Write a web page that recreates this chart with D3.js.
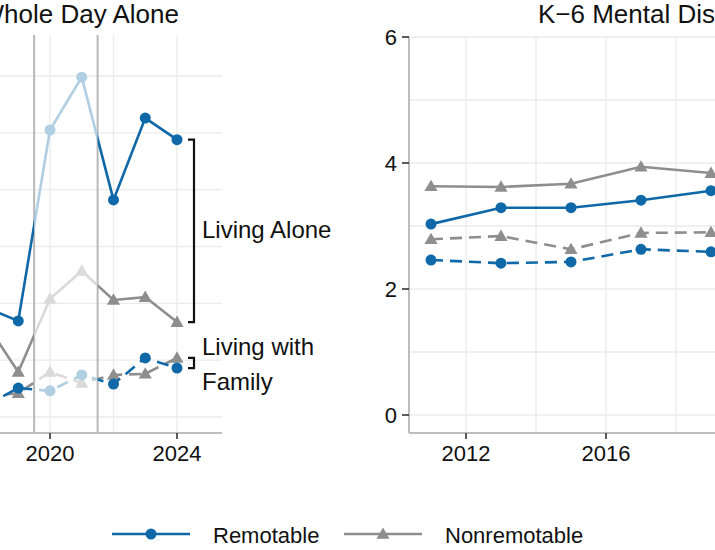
<!DOCTYPE html>
<meta charset="utf-8">
<style>
body { margin: 0; background: #fff; }
text { font-family: "Liberation Sans", Arial, sans-serif; fill: #111; }
</style>
<body>
<script src="https://cdn.jsdelivr.net/npm/d3@7"></script>
<script>

// left panel: whole day alone (years 2018-2024, 2020-21 pandemic shading)
var yearsL = [2018, 2019, 2020, 2021, 2022, 2023, 2024];
var remoteAlone     = [9.6, 8.45, 25.25, 29.9, 19.1, 26.3, 24.4];
var nonremoteAlone  = [8.2, 3.96, 10.4, 12.85, 10.3, 10.55, 8.35];
var remoteFamily    = [1.05, 2.55, 2.3, 3.7, 2.9, 5.2, 4.3];
var nonremoteFamily = [1.8, 2.1, 3.96, 3.0, 3.7, 3.8, 5.2];
var ticksL = [2020, 2024];
var pandemic = [2019.5, 2021.5];

// right panel: K-6 mental distress
var yearsR = [2011, 2013, 2015, 2017, 2019];
var k6RemoteAlone     = [3.03, 3.29, 3.29, 3.41, 3.56];
var k6NonremoteAlone  = [3.63, 3.62, 3.67, 3.94, 3.84];
var k6RemoteFamily    = [2.46, 2.41, 2.43, 2.63, 2.59];
var k6NonremoteFamily = [2.79, 2.84, 2.63, 2.89, 2.90];
var ticksRx = [2012, 2016];
var ticksRy = [0, 2, 4, 6];

var legendItems = ["Remotable", "Nonremotable"];

var width = 715, height = 550;
var blue = "#0f68a7", lightBlue = "#b0cfe3",
    gray = "#8e8e8e", lightGray = "#dadada",
    grid = "#ebebeb", axisCol = "#bdbdbd";

var svg = d3.select("body").append("svg")
    .attr("width", width)
    .attr("height", height);

var defs = svg.append("defs");

function drawMarks(g, x, y, years, vals, shape, col) {
  var fill = typeof col == "function" ? function(d, i) { return col(years[i]); } : col;
  if (shape == "circle") {
    g.selectAll(null).data(vals).enter().append("circle")
        .attr("cx", function(d, i) { return x(years[i]); })
        .attr("cy", function(d) { return y(d); })
        .attr("r", 5.5)
        .attr("fill", fill);
  } else {
    var tri = d3.symbol().type(d3.symbolTriangle).size(75);
    g.selectAll(null).data(vals).enter().append("path")
        .attr("d", tri)
        .attr("transform", function(d, i) { return "translate(" + x(years[i]) + "," + (y(d) + 1) + ")"; })
        .attr("fill", fill);
  }
}

// ---------- LEFT PANEL ----------
var xL = d3.scaleLinear().domain([2020, 2024]).range([50, 177]);
var yL = d3.scaleLinear().domain([0, 30]).range([417, 76]);
var leftX0 = xL(2014.5), leftX1 = 222, topL = 35, bottom = 433;

var gL = svg.append("g");

gL.selectAll(".hg").data(d3.range(0, 31, 5)).enter().append("line")
    .attr("x1", leftX0).attr("x2", leftX1)
    .attr("y1", function(d) { return yL(d); }).attr("y2", function(d) { return yL(d); })
    .attr("stroke", grid).attr("stroke-width", 1.3);
gL.selectAll(".vg").data([2016, 2018, 2020, 2022, 2024]).enter().append("line")
    .attr("x1", function(d) { return xL(d); }).attr("x2", function(d) { return xL(d); })
    .attr("y1", topL).attr("y2", bottom)
    .attr("stroke", grid).attr("stroke-width", 1.3);

gL.selectAll(".ref").data(pandemic).enter().append("line")
    .attr("x1", function(d) { return xL(d); }).attr("x2", function(d) { return xL(d); })
    .attr("y1", topL).attr("y2", bottom)
    .attr("stroke", "#b8b8b8").attr("stroke-width", 2);

// clip paths: inside / outside pandemic window
defs.append("clipPath").attr("id", "inside").append("rect")
    .attr("x", xL(pandemic[0])).attr("width", xL(pandemic[1]) - xL(pandemic[0]))
    .attr("y", 0).attr("height", height);
var outside = defs.append("clipPath").attr("id", "outside");
outside.append("rect").attr("x", -100).attr("width", xL(pandemic[0]) + 100).attr("y", 0).attr("height", height);
outside.append("rect").attr("x", xL(pandemic[1])).attr("width", 400).attr("y", 0).attr("height", height);

var lineL = d3.line()
    .x(function(d, i) { return xL(yearsL[i]); })
    .y(function(d) { return yL(d); });

var seriesL = [
  {vals: nonremoteAlone, col: gray, light: lightGray, dash: null, shape: "tri"},
  {vals: nonremoteFamily, col: gray, light: lightGray, dash: "12,7", shape: "tri"},
  {vals: remoteFamily, col: blue, light: lightBlue, dash: "12,7", shape: "circle"},
  {vals: remoteAlone, col: blue, light: lightBlue, dash: null, shape: "circle"}
];

seriesL.forEach(function(s) {
  gL.append("path").datum(s.vals)
      .attr("d", lineL).attr("fill", "none")
      .attr("stroke", s.light).attr("stroke-width", 2.6)
      .attr("stroke-dasharray", s.dash)
      .attr("clip-path", "url(#inside)");
  gL.append("path").datum(s.vals)
      .attr("d", lineL).attr("fill", "none")
      .attr("stroke", s.col).attr("stroke-width", 2.6)
      .attr("stroke-dasharray", s.dash)
      .attr("clip-path", "url(#outside)");
  drawMarks(gL, xL, yL, yearsL, s.vals, s.shape, function(yr) {
    return (yr > pandemic[0] && yr < pandemic[1]) ? s.light : s.col;
  });
});

// x axis left
gL.append("line").attr("x1", leftX0).attr("x2", leftX1)
    .attr("y1", bottom).attr("y2", bottom)
    .attr("stroke", axisCol).attr("stroke-width", 2);
gL.selectAll(".xt").data(ticksL).enter().append("line")
    .attr("x1", function(d) { return xL(d); }).attr("x2", function(d) { return xL(d); })
    .attr("y1", bottom).attr("y2", bottom + 6)
    .attr("stroke", "#333").attr("stroke-width", 1.6);
gL.selectAll(".xl").data(ticksL).enter().append("text")
    .attr("x", function(d) { return xL(d); })
    .attr("y", 461)
    .attr("text-anchor", "middle")
    .style("font-size", "22px")
    .text(function(d) { return d; });

// title
gL.append("text").attr("x", 179).attr("y", 23)
    .attr("text-anchor", "end")
    .style("font-size", "26px")
    .text("Whole Day Alone");

// brackets at 2024
var last = yearsL.length - 1;
var bx = 194;
function bracket(a, b) {
  var y1 = yL(a), y2 = yL(b);
  gL.append("path")
      .attr("d", "M" + (bx - 6) + "," + y1 + "H" + bx + "V" + y2 + "H" + (bx - 6))
      .attr("fill", "none").attr("stroke", "#111").attr("stroke-width", 2.2);
}
bracket(remoteAlone[last], nonremoteAlone[last]);
bracket(nonremoteFamily[last], remoteFamily[last]);

gL.append("text").attr("x", 202).attr("y", 238)
    .style("font-size", "24px").text("Living Alone");
gL.append("text").attr("x", 202).attr("y", 355)
    .style("font-size", "24px").text("Living with");
gL.append("text").attr("x", 202).attr("y", 390)
    .style("font-size", "24px").text("Family");

// ---------- RIGHT PANEL ----------
var xR = d3.scaleLinear().domain([2012, 2016]).range([466, 606]);
var yR = d3.scaleLinear().domain([0, 6]).range([415, 37]);
var rightX0 = 409, rightX1 = 760, topR = 37;

var gR = svg.append("g");

gR.selectAll(".hg").data(d3.range(0, 7, 1)).enter().append("line")
    .attr("x1", rightX0).attr("x2", rightX1)
    .attr("y1", function(d) { return yR(d); }).attr("y2", function(d) { return yR(d); })
    .attr("stroke", grid).attr("stroke-width", 1.3);
gR.selectAll(".vg").data([2012, 2014, 2016, 2018, 2020]).enter().append("line")
    .attr("x1", function(d) { return xR(d); }).attr("x2", function(d) { return xR(d); })
    .attr("y1", topR).attr("y2", bottom)
    .attr("stroke", grid).attr("stroke-width", 1.3);

var lineR = d3.line()
    .x(function(d, i) { return xR(yearsR[i]); })
    .y(function(d) { return yR(d); });

var seriesR = [
  {vals: k6NonremoteAlone, col: gray, dash: null, shape: "tri"},
  {vals: k6NonremoteFamily, col: gray, dash: "12,7", shape: "tri"},
  {vals: k6RemoteFamily, col: blue, dash: "12,7", shape: "circle"},
  {vals: k6RemoteAlone, col: blue, dash: null, shape: "circle"}
];
seriesR.forEach(function(s) {
  gR.append("path").datum(s.vals)
      .attr("d", lineR).attr("fill", "none")
      .attr("stroke", s.col).attr("stroke-width", 2.6)
      .attr("stroke-dasharray", s.dash);
  drawMarks(gR, xR, yR, yearsR, s.vals, s.shape, s.col);
});

// axes right
gR.append("line").attr("x1", rightX0).attr("x2", rightX0)
    .attr("y1", topR).attr("y2", bottom)
    .attr("stroke", axisCol).attr("stroke-width", 2);
gR.append("line").attr("x1", rightX0).attr("x2", rightX1)
    .attr("y1", bottom).attr("y2", bottom)
    .attr("stroke", axisCol).attr("stroke-width", 2);
gR.selectAll(".yt").data(ticksRy).enter().append("line")
    .attr("x1", rightX0 - 7).attr("x2", rightX0)
    .attr("y1", function(d) { return yR(d); }).attr("y2", function(d) { return yR(d); })
    .attr("stroke", "#333").attr("stroke-width", 1.6);
gR.selectAll(".yl").data(ticksRy).enter().append("text")
    .attr("x", 397)
    .attr("y", function(d) { return yR(d) + 8; })
    .attr("text-anchor", "end")
    .style("font-size", "22px")
    .text(function(d) { return d; });
gR.selectAll(".xt").data(ticksRx).enter().append("line")
    .attr("x1", function(d) { return xR(d); }).attr("x2", function(d) { return xR(d); })
    .attr("y1", bottom).attr("y2", bottom + 6)
    .attr("stroke", "#333").attr("stroke-width", 1.6);
gR.selectAll(".xl").data(ticksRx).enter().append("text")
    .attr("x", function(d) { return xR(d); })
    .attr("y", 461)
    .attr("text-anchor", "middle")
    .style("font-size", "22px")
    .text(function(d) { return d; });

gR.append("text").attr("x", 538).attr("y", 23)
    .style("font-size", "26px")
    .text("K\u22126 Mental Dis");

// ---------- LEGEND ----------
var legX = [112, 344];
var lg = svg.append("g");
legendItems.forEach(function(name, i) {
  var x0 = legX[i], col = i == 0 ? blue : gray;
  lg.append("line").attr("x1", x0).attr("x2", x0 + 78)
      .attr("y1", 534).attr("y2", 534)
      .attr("stroke", col).attr("stroke-width", 2.6);
  var mx = function() { return x0 + 39; }, my = function(d) { return d; };
  drawMarks(lg, mx, my, [0], [534], i == 0 ? "circle" : "tri", col);
  lg.append("text").attr("x", x0 + 101).attr("y", 543)
      .style("font-size", "22px").text(name);
});

</script>
</body>
